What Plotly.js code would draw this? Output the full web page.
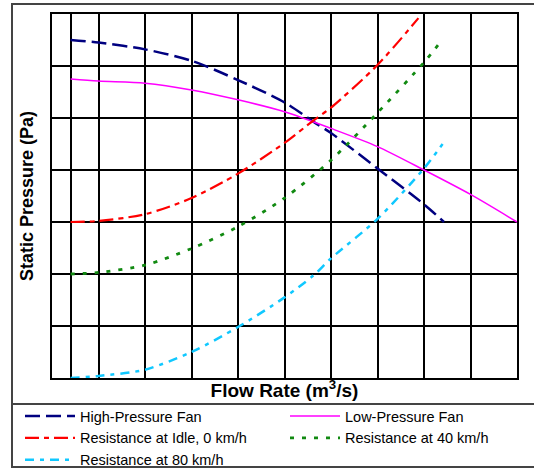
<!DOCTYPE html>
<html>
<head>
<meta charset="utf-8">
<script src="https://cdn.plot.ly/plotly-3.0.1.min.js"></script>
<style>html,body{margin:0;padding:0;background:#fff;}#chart{width:534px;height:469px;}</style>
</head>
<body>
<div id="chart"></div>
<script>
// Flow rate (grid units) and static pressure (grid units)
var seriesNames = ["High-Pressure Fan", "Low-Pressure Fan", "Resistance at Idle, 0 km/h", "Resistance at 40 km/h", "Resistance at 80 km/h"];

var highFanX = [0.4, 1, 2, 3, 4, 5, 5.62, 6, 7, 8, 8.43];
var highFanY = [6.5, 6.45, 6.32, 6.1, 5.73, 5.3, 4.93, 4.71, 4.03, 3.34, 3.0];

var lowFanX = [0.4, 1, 2, 3, 4, 5, 6, 7, 8, 9, 10];
var lowFanY = [5.75, 5.71, 5.67, 5.54, 5.35, 5.12, 4.8, 4.45, 4.0, 3.53, 3.0];

var idleX = [0.4, 1, 2, 3, 4, 5, 5.62, 6, 7, 7.88];
var idleY = [3.0, 3.02, 3.15, 3.46, 3.93, 4.52, 4.95, 5.2, 6.02, 6.92];

var kmh40X = [0.4, 1, 2, 3, 4, 5, 6, 7, 8, 8.3];
var kmh40Y = [2.0, 2.03, 2.17, 2.49, 2.91, 3.46, 4.19, 5.1, 6.07, 6.4];

var kmh80X = [0.4, 1, 2, 3, 4, 5, 5.62, 6, 7, 8, 8.4];
var kmh80Y = [0.0, 0.04, 0.16, 0.5, 0.98, 1.55, 1.97, 2.3, 3.06, 4.03, 4.5];

var xGrid = [0.4, 1, 2, 3, 4, 5, 6, 7, 8, 9];
var yGrid = [1, 2, 3, 4, 5, 6];

var traces = [
  {x: highFanX, y: highFanY, name: seriesNames[0], mode: "lines", legend: "legend",
   line: {color: "#000080", width: 2.5, dash: "15px,6px", shape: "spline", smoothing: 0.8}},
  {x: lowFanX, y: lowFanY, name: seriesNames[1], mode: "lines", legend: "legend2",
   line: {color: "#ff00ff", width: 1.5, shape: "spline", smoothing: 0.8}},
  {x: idleX, y: idleY, name: seriesNames[2], mode: "lines", legend: "legend",
   line: {color: "#ff0000", width: 2.2, dash: "14px,5px,5px,5px", shape: "spline", smoothing: 0.8}},
  {x: kmh40X, y: kmh40Y, name: seriesNames[3], mode: "lines", legend: "legend2",
   line: {color: "#118a11", width: 2.8, dash: "4px,8px", shape: "spline", smoothing: 0.8}},
  {x: kmh80X, y: kmh80Y, name: seriesNames[4], mode: "lines", legend: "legend",
   line: {color: "#10c8ff", width: 2.5, dash: "9px,6px,4px,6px", shape: "spline", smoothing: 0.8}}
];

// paper coordinates helpers for the outer frame (plot: x 52..517, y 14..378)
var L = 52, T = 14, W = 465, H = 364;
function px(v){ return (v - L) / W; }
function py(v){ return (T + H - v) / H; }

var legendFont = {size: 14.5, family: "Liberation Sans, Arial, sans-serif", color: "#000"};
var titleFont = {family: "Liberation Sans, Arial, sans-serif", weight: "bold", color: "#000"};

var layout = {
  width: 534, height: 469,
  margin: {l: 52, r: 17, t: 14, b: 91, autoexpand: false},
  paper_bgcolor: "#ffffff", plot_bgcolor: "#ffffff",
  font: {family: "Liberation Sans, Arial, sans-serif", color: "#000"},
  showlegend: true,
  xaxis: {
    range: [0, 10], tickvals: xGrid, showticklabels: false, ticks: "",
    showgrid: true, gridcolor: "#000", gridwidth: 2, zeroline: false,
    showline: true, linecolor: "#000", linewidth: 2, mirror: true,
    title: {text: "Flow Rate (m<sup>3</sup>/s)", standoff: 5,
            font: Object.assign({size: 19}, titleFont)}
  },
  yaxis: {
    range: [0, 7], tickvals: yGrid, showticklabels: false, ticks: "",
    showgrid: true, gridcolor: "#000", gridwidth: 2, zeroline: false,
    showline: true, linecolor: "#000", linewidth: 2, mirror: true,
    title: {text: "Static Pressure (Pa)", standoff: 12,
            font: Object.assign({size: 18}, titleFont)}
  },
  legend: {
    orientation: "v", xref: "paper", yref: "paper",
    x: px(20), xanchor: "left", y: py(400), yanchor: "top",
    itemwidth: 50, font: legendFont,
    bgcolor: "rgba(0,0,0,0)", borderwidth: 0, traceorder: "normal"
  },
  legend2: {
    orientation: "v", xref: "paper", yref: "paper",
    x: px(285), xanchor: "left", y: py(400), yanchor: "top",
    itemwidth: 50, font: legendFont,
    bgcolor: "rgba(0,0,0,0)", borderwidth: 0, traceorder: "normal"
  },
  shapes: [
    {type: "rect", xref: "paper", yref: "paper", x0: px(12), x1: px(540), y0: py(4), y1: py(467),
     line: {color: "#444", width: 2}, layer: "below"},
    {type: "line", xref: "paper", yref: "paper", x0: px(12), x1: px(540), y0: py(404), y1: py(404),
     line: {color: "#444", width: 2}}
  ]
};

Plotly.newPlot("chart", traces, layout, {staticPlot: true, displayModeBar: false});
</script>
</body>
</html>
